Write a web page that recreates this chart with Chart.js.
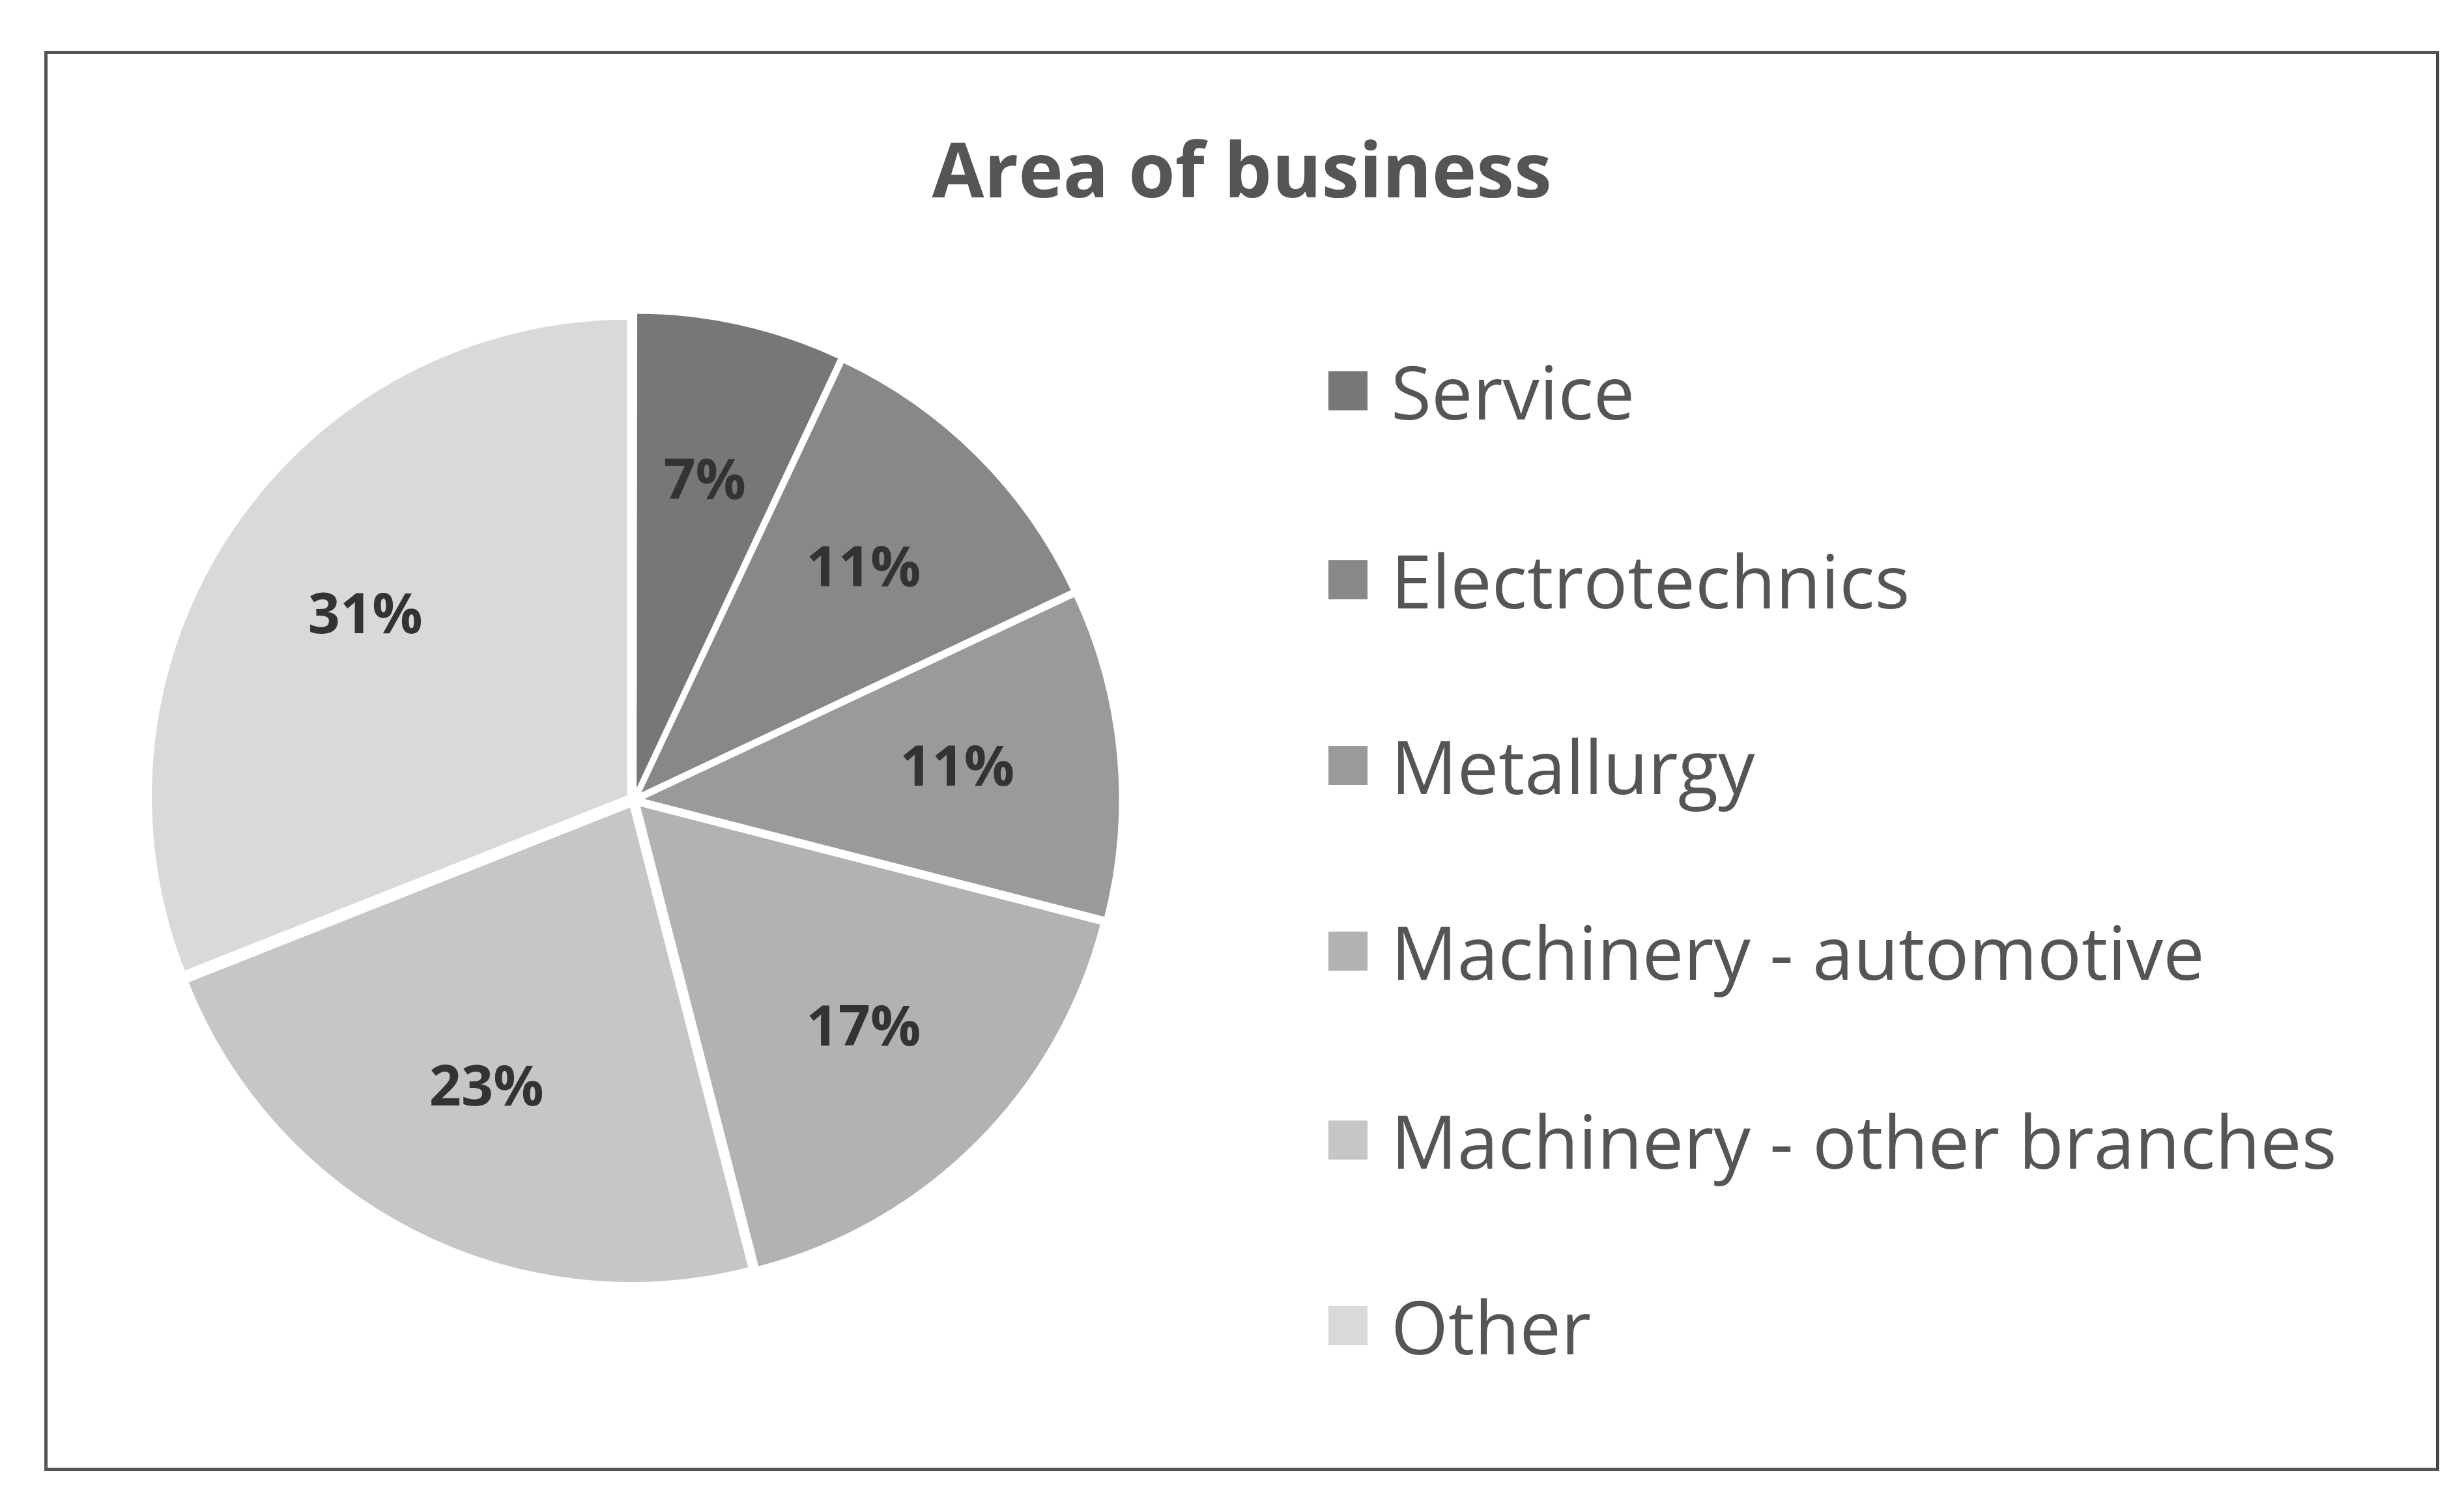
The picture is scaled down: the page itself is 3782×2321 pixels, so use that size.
<!DOCTYPE html>
<html><head><meta charset="utf-8">
<script src="https://cdn.jsdelivr.net/npm/chart.js@4/dist/chart.umd.min.js"></script>
<style>
html,body{margin:0;padding:0;background:#fff;width:3782px;height:2321px;overflow:hidden;font-family:"Open Sans",sans-serif}
#box{position:absolute;left:68px;top:78px;width:3666px;height:2170px;border:5px solid #555;border-right-color:#444;}
#title{position:absolute;left:0;width:100%;top:96px;text-align:center;font-weight:bold;font-size:116px;color:#555;}
#cv{position:absolute;left:0;top:0;}
#legend{position:absolute;left:1966px;top:0;}
.item{position:absolute;left:0;display:flex;align-items:center;font-size:113px;color:#555;white-space:nowrap}
.sw{width:60px;height:60px;margin-right:36px}
</style></head><body>
<div id="box">
<div id="title">Area of business</div>
<canvas id="cv" width="3666" height="2170"></canvas>
<div id="legend"></div>
</div>
<script>
const categories=["Service","Electrotechnics","Metallurgy","Machinery - automotive","Machinery - other branches","Other"];
const values=[7,11,11,17,23,31];
const colors=["#777777","#888888","#9a9a9a","#b2b2b2","#c6c6c6","#d9d9d9"];
const legendTops=[520,810,1095,1380,1670,1955];
const lg=document.getElementById('legend');
categories.forEach((c,i)=>{const d=document.createElement('div');d.className='item';d.style.top=(legendTops[i]-80)+'px';
d.innerHTML='<div class="sw" style="background:'+colors[i]+'"></div>'+c;lg.appendChild(d);});
const labelPlugin={id:'lbl',afterDatasetsDraw(ch){const ctx=ch.ctx;const meta=ch.getDatasetMeta(0);
ctx.save();ctx.font='bold 86px "Open Sans",sans-serif';ctx.fillStyle='#333';ctx.textAlign='center';ctx.textBaseline='middle';
meta.data.forEach((a,i)=>{const ang=(a.startAngle+a.endAngle)/2;const r=a.outerRadius*0.68;
ctx.fillText(values[i]+'%',a.x+Math.cos(ang)*r,a.y+Math.sin(ang)*r);});ctx.restore();}};
new Chart(document.getElementById('cv'),{type:'pie',
data:{labels:categories,datasets:[{data:values,backgroundColor:colors,borderColor:'#ffffff',borderWidth:4,offset:40}]},
options:{responsive:false,animation:false,layout:{padding:{left:-20,right:1866,top:390,bottom:270}},
plugins:{legend:{display:false},tooltip:{enabled:false}}},plugins:[labelPlugin]});
</script></body></html>
